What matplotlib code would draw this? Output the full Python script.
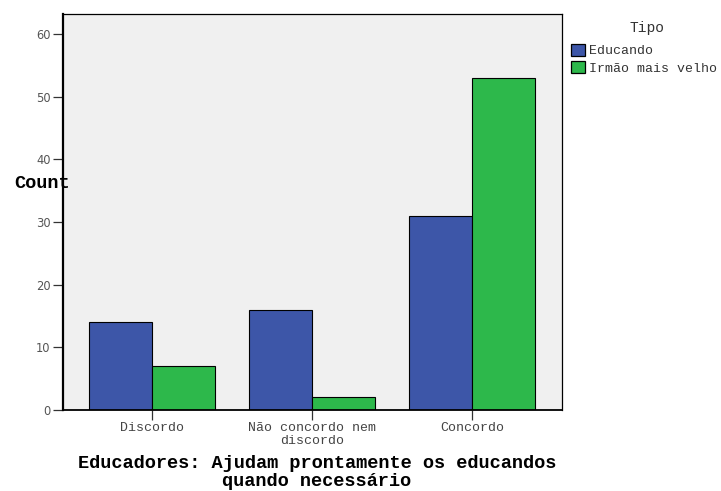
import matplotlib.pyplot as plt
import numpy as np
from matplotlib.patches import Patch

categories = ['Discordo', 'Não concordo nem\ndiscordo', 'Concordo']
series_names = ['Educando', 'Irmão mais velho']
educando = [14, 16, 31]
irmao = [7, 2, 53]
colors = ['#3D56A8', '#2DB84B']

plt.rcParams['font.family'] = ['Liberation Mono', 'DejaVu Sans']

fig = plt.figure(figsize=(7.21, 4.91), dpi=100)
ax = fig.add_axes([63 / 721, 1 - 410 / 491, 499 / 721, 396 / 491])
ax.set_facecolor('#F0F0F0')

x = np.arange(len(categories))
w = 0.394
ax.bar(x - w / 2, educando, w, color=colors[0], edgecolor='black', linewidth=0.8)
ax.bar(x + w / 2, irmao, w, color=colors[1], edgecolor='black', linewidth=0.8)

ax.set_xlim(-0.556, 2.5625)
ax.set_ylim(0, 63.2)
ax.set_yticks(range(0, 61, 10))
ax.set_xticks(x)
ax.set_xticklabels(categories, fontsize=9.5, color='#444444', linespacing=1.12)
for lab in ax.get_yticklabels():
    lab.set_fontfamily('DejaVu Sans')
    lab.set_fontsize(8.3)
    lab.set_color('#555555')
ax.tick_params(axis='both', length=7, width=0.9, color='#333333', pad=2)
ax.tick_params(axis='x', pad=1.5)
for s in ax.spines.values():
    s.set_linewidth(0.9)
ax.spines['left'].set_linewidth(1.6)
ax.spines['bottom'].set_linewidth(1.3)

fig.text(42 / 721, 1 - 183 / 491, 'Count', fontweight='bold',
         fontsize=13.4, ha='center', va='center')
fig.text(317 / 721, 1 - 472.5 / 491,
         'Educadores: Ajudam prontamente os educandos\nquando necessário',
         fontweight='bold', fontsize=13.4, ha='center', va='center',
         linespacing=1.05)

handles = [Patch(facecolor=c, edgecolor='black', linewidth=0.9) for c in colors]
leg = fig.legend(handles, series_names, loc='upper left',
                 bbox_to_anchor=(571 / 721, 1 - 44 / 491), frameon=False,
                 prop={'size': 9.5}, handlelength=1.06,
                 handleheight=1.0, handletextpad=0.3, labelspacing=0.3,
                 borderaxespad=0, borderpad=0)
for t in leg.get_texts():
    t.set_color('#333333')
fig.text(647 / 721, 1 - 28 / 491, 'Tipo', fontsize=10.5,
         ha='center', va='center', color='#333333')

fig.savefig('out.png', dpi=100)
